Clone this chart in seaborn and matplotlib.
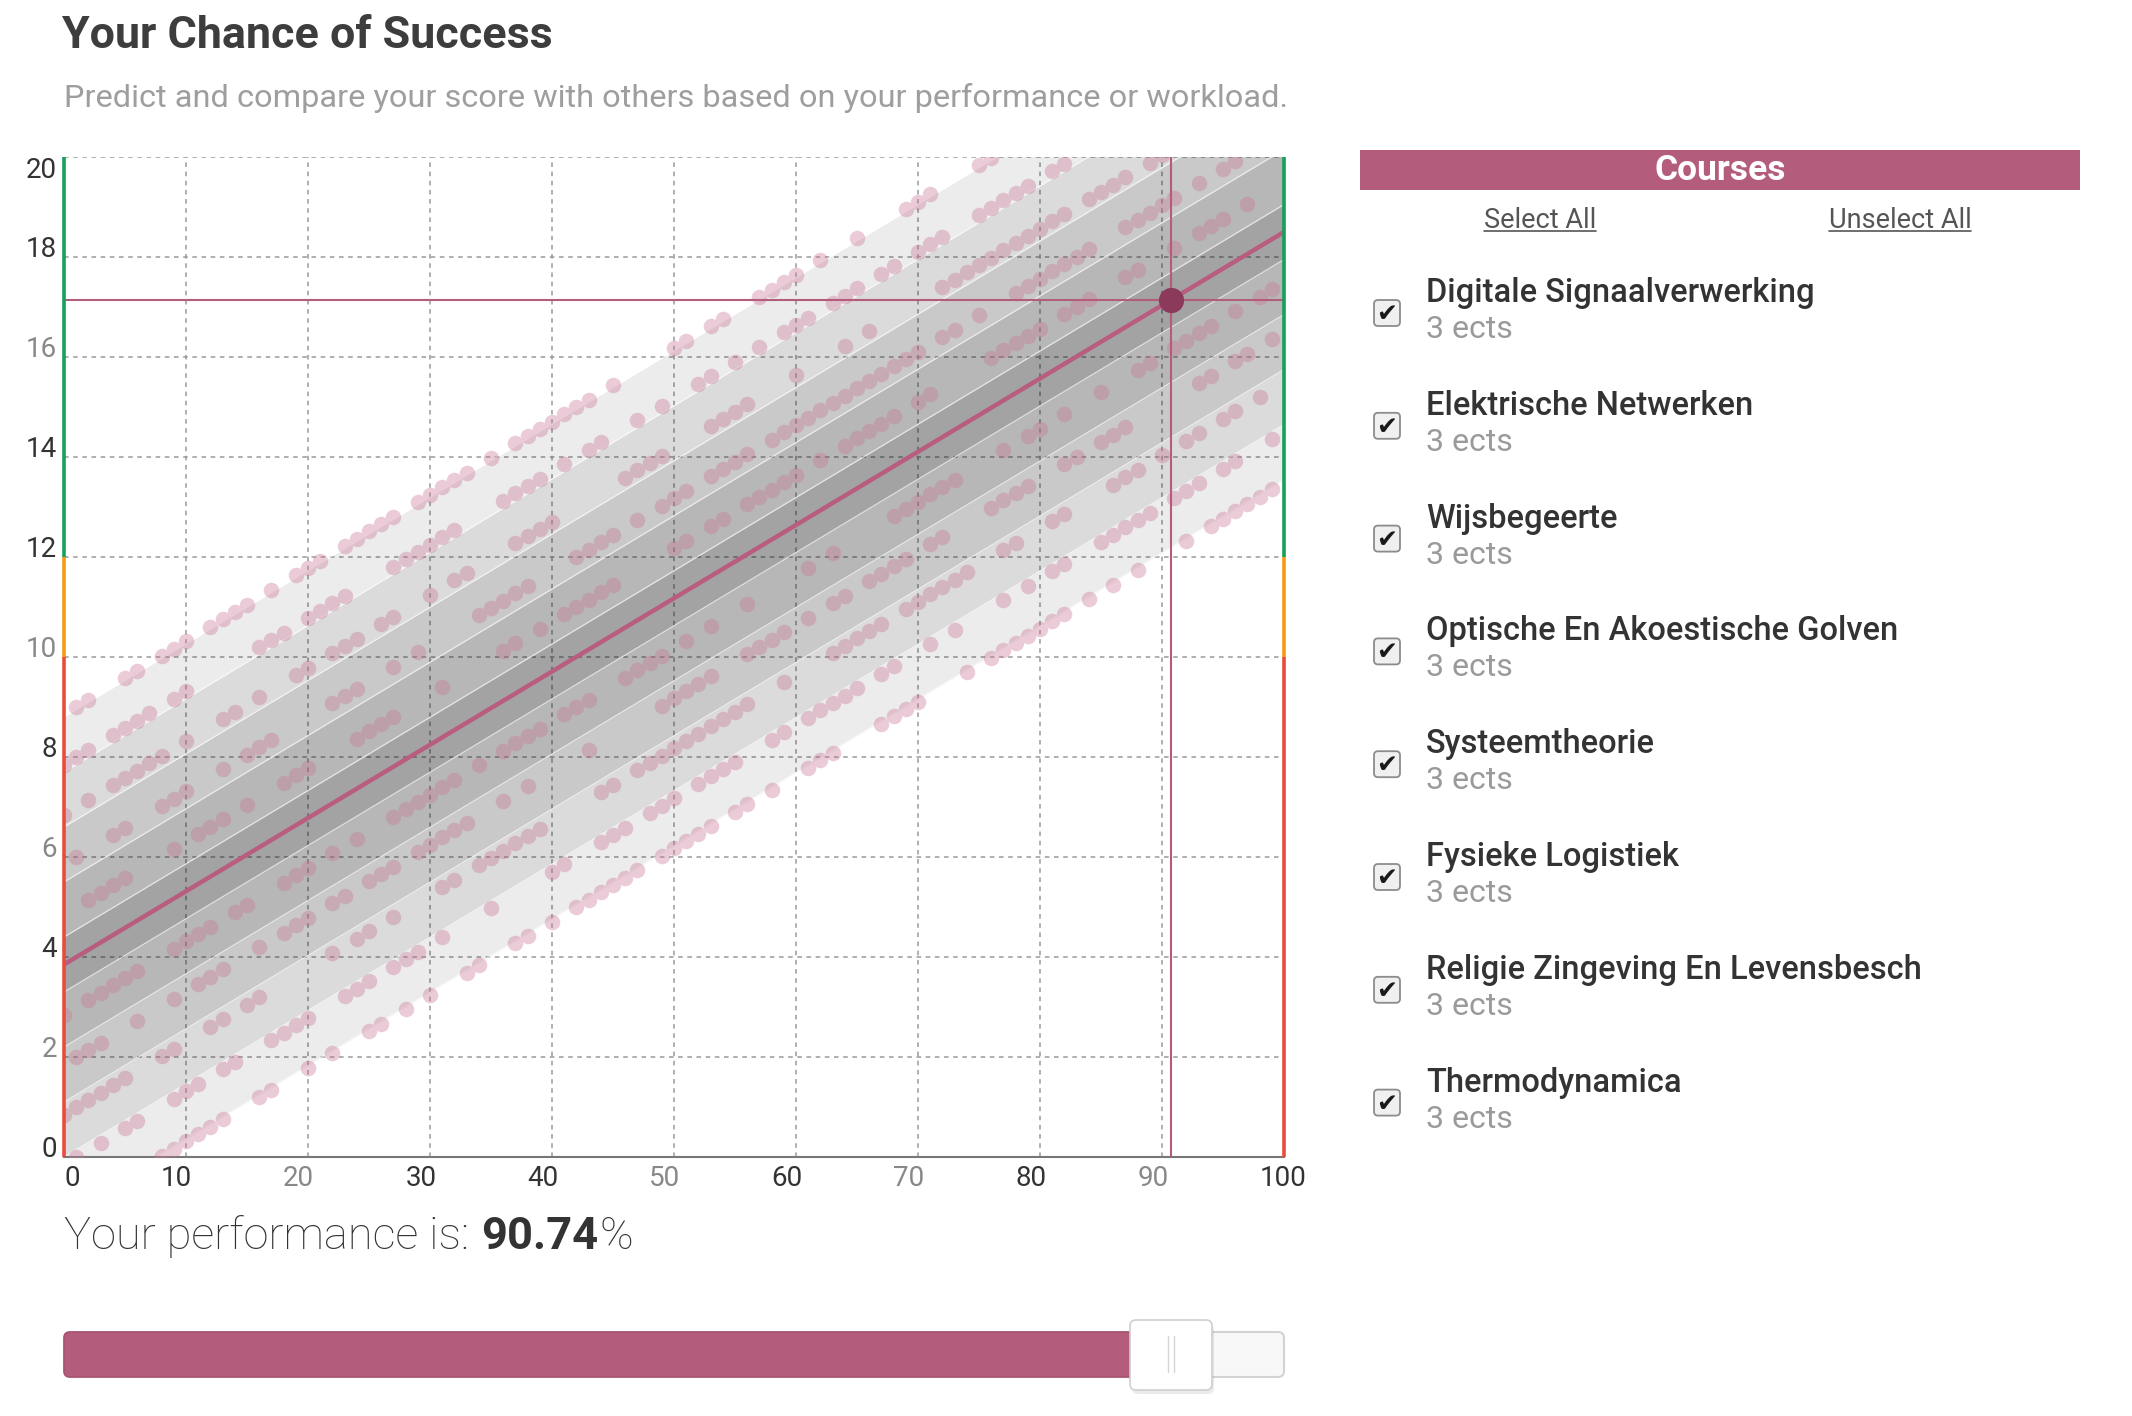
import numpy as np
import pandas as pd
import matplotlib
matplotlib.use('Agg')
import matplotlib.pyplot as plt
import matplotlib.transforms as mtransforms
from matplotlib.patches import FancyBboxPatch
import seaborn as sns

W, H = 2132, 1416

# ── values ───────────────────────────────────────────────────────────────────
LINE_X = [0, 100]
LINE_Y = [3.85, 18.5]            # fitted score at 0 % and 100 % performance
PERFORMANCE = 90.74
YOUR_SCORE = 17.15

BAND_EDGES = [0.55, 1.65, 2.75, 3.85, 4.95]
BAND_GREYS = ['#a3a3a3', '#b7b7b7', '#c9c9c9', '#dbdbdb', '#ececec']

ZONE_EDGES = [0, 10, 12, 20]
ZONE_COLORS = ['#e74c3c', '#f39c12', '#16a05a']

XTICKS = list(range(0, 101, 10))
YTICKS = list(range(0, 21, 2))
XTICK_COLORS = ['#333', '#333', '#888', '#333', '#333', '#888',
                '#333', '#888', '#333', '#888', '#333']
YTICK_COLORS = ['#333', '#888', '#333', '#888', '#333', '#888',
                '#333', '#333', '#888', '#333', '#333']
XTICK_NUDGE = [8, -10, -10, -9, -9, -9, -9, -9, -9, -9, -1]   # px, as rendered

# other students, grouped by how many points they sit above/below the fit
ROW_P5 = [1, 2, 5, 6, 8, 9, 10, 12, 13, 14, 15, 17, 19, 20, 21, 23, 24, 25, 26, 27,
          29, 30, 31, 32, 33, 35, 37, 38, 39, 40, 41, 42, 43, 45, 50, 51, 53, 54,
          57, 58, 59, 60, 62, 65, 69, 70, 71, 75, 76]
ROW_P4 = [0, 1, 2, 4, 5, 6, 7, 9, 10, 16, 17, 18, 20, 21, 22, 23, 27, 28, 29, 30,
          31, 32, 36, 37, 38, 39, 41, 43, 44, 47, 49, 52, 53, 55, 57, 59, 60, 61,
          63, 64, 65, 67, 68, 70, 71, 72, 75, 76, 77, 78, 79, 81, 82]
ROW_P3 = [0, 2, 4, 5, 6, 7, 8, 10, 13, 14, 16, 19, 20, 22, 23, 24, 26, 27, 30, 32,
          33, 37, 38, 39, 40, 46, 47, 48, 49, 53, 54, 55, 56, 60, 64, 66, 72, 73,
          74, 75, 76, 77, 78, 79, 80, 81, 82, 84, 85, 86, 87, 89, 90]
ROW_P2 = [1, 4, 5, 8, 9, 10, 13, 15, 16, 17, 22, 23, 24, 27, 29, 34, 35, 36, 37,
          38, 42, 43, 44, 45, 47, 49, 50, 51, 53, 54, 55, 56, 58, 59, 60, 61, 62,
          63, 64, 65, 66, 67, 68, 69, 70, 72, 73, 75, 78, 79, 80, 81, 82, 83, 84,
          87, 88, 89, 90, 91, 93, 95, 96]
ROW_P1 = [2, 3, 4, 5, 9, 11, 12, 13, 15, 18, 19, 20, 24, 25, 26, 27, 31, 36, 37,
          39, 41, 42, 43, 44, 45, 50, 51, 53, 54, 56, 57, 58, 59, 60, 62, 64, 65,
          66, 67, 68, 70, 71, 76, 77, 78, 79, 80, 82, 83, 84, 87, 88, 91, 93, 94,
          95, 97]
ROW_M1 = [0, 2, 3, 4, 5, 6, 9, 10, 11, 12, 14, 15, 18, 19, 20, 22, 24, 27, 28, 29,
          30, 31, 32, 34, 36, 37, 38, 39, 41, 42, 43, 46, 47, 48, 49, 51, 53, 56,
          61, 63, 68, 69, 70, 71, 72, 73, 77, 79, 80, 82, 85, 88, 89, 91, 92, 93,
          94, 96, 98, 99]
ROW_M2 = [1, 2, 3, 6, 9, 11, 12, 13, 16, 18, 19, 20, 22, 23, 25, 26, 27, 29, 30,
          31, 32, 33, 36, 38, 43, 49, 50, 51, 52, 53, 56, 57, 58, 59, 61, 63, 64,
          66, 67, 68, 69, 71, 72, 76, 77, 78, 79, 82, 83, 85, 86, 87, 93, 94, 96,
          97, 99]
ROW_M3 = [0, 1, 2, 3, 4, 5, 8, 9, 12, 13, 15, 16, 22, 24, 25, 27, 31, 32, 34, 35,
          36, 37, 38, 39, 44, 45, 47, 48, 49, 50, 51, 52, 53, 54, 55, 56, 59, 63,
          64, 65, 66, 67, 69, 70, 71, 72, 73, 74, 77, 78, 81, 82, 86, 87, 88, 90,
          92, 93, 95, 96, 98]
ROW_M4 = [1, 3, 5, 6, 9, 10, 11, 13, 14, 17, 18, 19, 20, 23, 24, 25, 27, 28, 29,
          31, 35, 40, 41, 44, 45, 46, 48, 49, 50, 52, 53, 54, 55, 58, 59, 61, 62,
          63, 64, 65, 67, 68, 71, 73, 77, 79, 81, 82, 85, 86, 87, 88, 89, 91, 92,
          93, 95, 96, 99]
ROW_M5 = [8, 9, 10, 11, 12, 13, 16, 17, 20, 22, 25, 26, 28, 30, 33, 34, 37, 38, 40,
          42, 43, 44, 45, 46, 47, 49, 50, 51, 52, 53, 55, 56, 58, 61, 62, 63, 67,
          68, 69, 70, 74, 76, 77, 78, 79, 80, 81, 82, 84, 86, 88, 92, 94, 95, 96,
          97, 98, 99]
ROW_OFFSETS = [5, 4, 3, 2, 1, -1, -2, -3, -4, -5]
ROWS = [ROW_P5, ROW_P4, ROW_P3, ROW_P2, ROW_P1, ROW_M1, ROW_M2, ROW_M3, ROW_M4, ROW_M5]

COURSES = ['Digitale Signaalverwerking', 'Elektrische Netwerken', 'Wijsbegeerte',
           'Optische En Akoestische Golven', 'Systeemtheorie', 'Fysieke Logistiek',
           'Religie Zingeving En Levensbesch', 'Thermodynamica']
COURSE_ECTS = [3, 3, 3, 3, 3, 3, 3, 3]

ACCENT = '#b35c7c'


def group_alpha(img, dpi):
    # fade the whole dot layer at once so touching dots do not darken
    img = img.copy()
    img[..., 3] *= 0.62
    return img, 0, 0


sns.set_style('white')
plt.rcParams['font.family'] = ['Roboto', 'DejaVu Sans']

fig = plt.figure(figsize=(W / 100, H / 100), dpi=100)
ax = fig.add_axes([64 / W, 1 - 1157 / H, 1220 / W, 1000 / H])

lx = np.array(LINE_X, dtype=float)
ly = np.array(LINE_Y, dtype=float)
slope = (ly[1] - ly[0]) / (lx[1] - lx[0])

# ── confidence bands (disjoint strips, translucent so the grid shows) ──────
inner = 0.0
for edge, grey in zip(BAND_EDGES, BAND_GREYS):
    a = 1 - int(grey[1:3], 16) / 255
    if inner == 0.0:
        ax.fill_between(lx, ly - edge, ly + edge, color='black', alpha=a, lw=0, zorder=1)
    else:
        ax.fill_between(lx, ly + inner, ly + edge, color='black', alpha=a, lw=0, zorder=1)
        ax.fill_between(lx, ly - edge, ly - inner, color='black', alpha=a, lw=0, zorder=1)
    for sgn in (1, -1):
        ax.plot(lx, ly + sgn * edge, color='white', lw=0.8, alpha=0.7, zorder=1.5)
    inner = edge

# ── other students ────────────────────────────────────────────────────────────
perf, score = [], []
for off, xs in zip(ROW_OFFSETS, ROWS):
    for x in xs:
        perf.append(x)
        score.append(ly[0] + slope * x + off)
dots = pd.DataFrame({'performance': perf, 'score': score})
sns.scatterplot(data=dots, x='performance', y='score', color='#c87896', s=125,
                linewidth=0, ax=ax, zorder=3, legend=False)
ax.collections[-1].set_agg_filter(group_alpha)

# ── fit line and your position ────────────────────────────────────────────────
sns.lineplot(x=LINE_X, y=LINE_Y, color='#b95d80', lw=3.2, ax=ax, zorder=4)
ax.axhline(YOUR_SCORE, color=ACCENT, lw=1.5, zorder=4)
ax.axvline(PERFORMANCE, color=ACCENT, lw=1.5, zorder=4)
ax.scatter([PERFORMANCE], [YOUR_SCORE], s=330, color='#8b3a5c', zorder=5, lw=0)

# pass / fail zones on both side axes
for lo, hi, col in zip(ZONE_EDGES[:-1], ZONE_EDGES[1:], ZONE_COLORS):
    for xv in (0, 100):
        ax.plot([xv, xv], [lo, hi], color=col, lw=2.6, solid_capstyle='butt',
                clip_on=False, zorder=6)

ax.set_xlim(0, 100)
ax.set_ylim(0, 20)
ax.set_xlabel('')
ax.set_ylabel('')
ax.set_axisbelow(True)
ax.grid(True, color='#9a9a9a', lw=1.1, ls=(0, (3, 3)))
for s in ('top', 'left', 'right'):
    ax.spines[s].set_visible(False)
ax.spines['bottom'].set_color('#777777')
ax.spines['bottom'].set_linewidth(1.5)

ax.set_xticks(XTICKS)
ax.set_yticks(YTICKS)
ax.tick_params(axis='both', length=0, labelsize=20)
ax.tick_params(axis='x', pad=6)
ax.tick_params(axis='y', pad=5)
for lab, col, dx in zip(ax.get_xticklabels(), XTICK_COLORS, XTICK_NUDGE):
    lab.set_color(col)
    lab.set_transform(lab.get_transform() +
                      mtransforms.ScaledTranslation(dx / 100, 0, fig.dpi_scale_trans))
for lab, col, v in zip(ax.get_yticklabels(), YTICK_COLORS, YTICKS):
    lab.set_color(col)
    lab.set_va('top' if v == 20 else 'baseline')

# ── page furniture, drawn in pixel coordinates ───────────────────────────────
ui = fig.add_axes([0, 0, 1, 1])
ui.set_xlim(0, W)
ui.set_ylim(H, 0)
ui.axis('off')

ui.text(62, 48, 'Your Chance of Success', fontsize=32.3, fontweight='bold',
        color='#3d3d3d', va='baseline')
ui.text(64, 107, 'Predict and compare your score with others based on your performance or workload.',
        fontsize=23.4, color='#9e9e9e', va='baseline')

ui.add_patch(FancyBboxPatch((1360, 150), 720, 40, boxstyle='square,pad=0',
                            fc=ACCENT, ec='none'))
ui.text(1720, 180, 'Courses', fontsize=25.5, fontweight='bold', color='white',
        ha='center', va='baseline')
links = [ui.text(1540, 228, 'Select All', fontsize=19.5, color='#555555', ha='center', va='baseline'),
         ui.text(1900, 228, 'Unselect All', fontsize=19.5, color='#555555', ha='center', va='baseline')]

for i, (name, ects) in enumerate(zip(COURSES, COURSE_ECTS)):
    yc = 313 + 112.8 * i
    ui.add_patch(FancyBboxPatch((1374, yc - 13), 26, 26,
                                boxstyle='round,pad=0,rounding_size=4',
                                fc='#f0f0f0', ec='#8c8c8c', lw=1.3))
    ui.text(1387, yc + 1, '\u2714', fontsize=18, color='#1a1a1a',
            ha='center', va='center', family=['DejaVu Sans'])
    ui.text(1426, 302 + 112.8 * i, name, fontsize=23.5, fontweight='medium',
            color='#333333', va='baseline')
    ui.text(1426, 338 + 112.8 * i, f'{ects} ects', fontsize=23, color='#9a9a9a',
            va='baseline')

# slider showing the chosen performance
track_x, track_w = 64, 1220
ui.add_patch(FancyBboxPatch((track_x, 1332), track_w, 45,
                            boxstyle='round,pad=0,rounding_size=6',
                            fc='#f8f8f8', ec='#d3d3d3', lw=1.5))
fill_w = track_w * PERFORMANCE / 100
ui.add_patch(FancyBboxPatch((track_x, 1332), fill_w, 45,
                            boxstyle='round,pad=0,rounding_size=6',
                            fc=ACCENT, ec='#a85272', lw=1.2))
hx = track_x + fill_w
ui.add_patch(FancyBboxPatch((hx - 39, 1324), 82, 70,
                            boxstyle='round,pad=0,rounding_size=6',
                            fc='#000000', ec='none', alpha=0.08))
ui.add_patch(FancyBboxPatch((hx - 41, 1320), 82, 70,
                            boxstyle='round,pad=0,rounding_size=6',
                            fc='white', ec='#cfcfcf', lw=1.2))
for dx in (-3, 3):
    ui.plot([hx + dx, hx + dx], [1336, 1372], color='#d5d5d5', lw=1)

# performance read-out, pieces laid side by side
fig.canvas.draw()
renderer = fig.canvas.get_renderer()
x = 64
for txt, wt, gap in (('Your performance is:', 'light', 12),
                     (f'{PERFORMANCE:.2f}', 'bold', 1), ('%', 'light', 0)):
    t = ui.text(x, 1249, txt, fontsize=32.6, fontweight=wt, color='#333333', va='baseline')
    bb = t.get_window_extent(renderer)
    x = bb.x1 + gap

for t in links:
    bb = t.get_window_extent(renderer)
    ui.plot([bb.x0, bb.x1], [231, 231], color='#555555', lw=1.2)

fig.savefig('out.png', dpi=100)
